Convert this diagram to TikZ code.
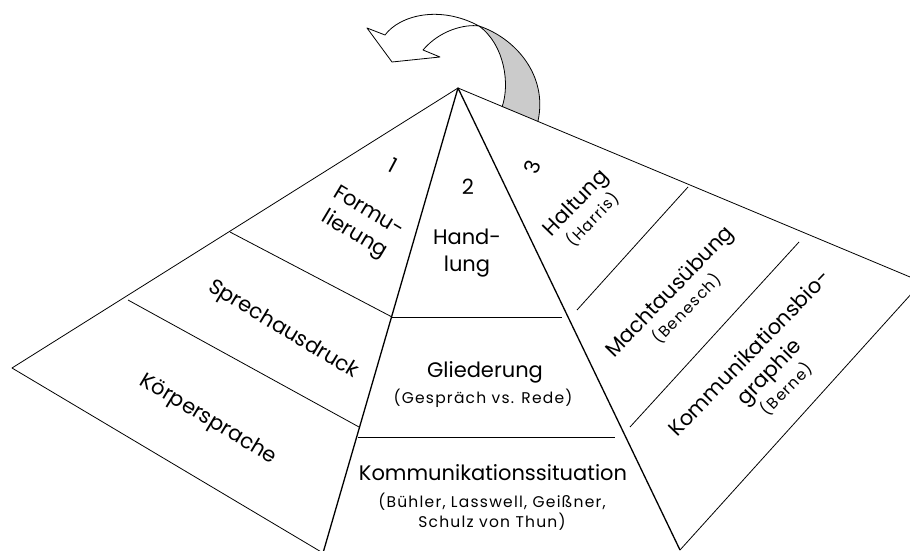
\documentclass[tikz,border=0pt]{standalone}
\usepackage{fontspec}
\setmainfont{Poppins}
\newfontfamily\subfam{Poppins}[LetterSpace=8]
\usetikzlibrary{calc}
\definecolor{BandGray}{HTML}{CBCBCB}
\newcommand{\smallerfont}{\subfam\fontsize{15.5}{20}\selectfont}

\begin{document}
\begin{tikzpicture}[x=1pt, y=-1pt, line join=round,
    pyr/.style={line width=1.3pt},
    flap/.style={line width=0.8pt},
    maintext/.style={font=\fontsize{21}{27}\selectfont, align=center, inner sep=0pt},
    subtext/.style={font=\smallerfont, align=center, inner sep=0pt}]
  \useasboundingbox (0,0) rectangle (910,551);

  % corners
  \coordinate (top) at (458,88);
  \coordinate (lfar) at (12,368);
  \coordinate (lbot) at (323,553);
  \coordinate (rbot) at (680,550);
  \coordinate (rfar) at (922,282);

  % curved arrow above the top
  \fill[BandGray] (479,26) .. controls (515,38) and (548,75) .. (538,121)
    -- (502,107) .. controls (510,85) and (505,45) .. (479,26);
  \draw[flap] (479,26) .. controls (515,38) and (548,75) .. (538,121);
  \draw[flap] (502,107) .. controls (510,85) and (505,45) .. (479,26);
  \draw[flap, fill=white] (479,26) .. controls (440,5) and (400,15) .. (385,35)
    -- (367,28) -- (392,62) -- (440,57) -- (423,50)
    .. controls (440,30) and (465,24) .. (479,26);

  % left flap
  \draw[flap] (top) -- (lfar) -- (lbot);
  \coordinate (l1a) at (230,232);
  \coordinate (l1b) at (392,317);
  \coordinate (l2a) at (128,300);
  \coordinate (l2b) at (359,427);
  \draw[flap] (l1a) -- (l1b);
  \draw[flap] (l2a) -- (l2b);

  % right flap
  \draw[flap] (top) -- (rfar) -- (rbot);
  \coordinate (r1a) at (688,187);
  \coordinate (r1b) at (577,310);
  \coordinate (r2a) at (799,242);
  \coordinate (r2b) at (630,427);
  \draw[flap] (r1a) -- (r1b);
  \draw[flap] (r2a) -- (r2b);

  % middle pyramid
  \draw[pyr] (lbot) -- (top) -- (rbot);
  \coordinate (m1a) at (392,317);
  \coordinate (m1b) at (562,317);
  \coordinate (m2a) at (358,437);
  \coordinate (m2b) at (615,437);
  \draw[flap] (m1a) -- (m1b);
  \draw[flap] (m2a) -- (m2b);

  % left texts
  \node[maintext, rotate=-28] (one) at (393,165) {1};
  \node[maintext, rotate=-31] (formu) at (361,224) {Formu-\\lierung};
  \node[maintext, rotate=-31] (sprech) at (283,330) {Sprechausdruck};
  \node[maintext, rotate=-31] (koerper) at (208,420) {Körpersprache};

  % middle texts
  \node[maintext] (two) at (468,187) {2};
  \node[maintext] (hand) at (467,253) {Hand-\\lung};
  \node[maintext] (glied) at (485,372) {Gliederung};
  \node[subtext] (gliedsub) at (483,398) {(Gespräch vs. Rede)};
  \node[maintext] (komm) at (493,473) {Kommunikationssituation};
  \node[subtext] (kommsub) at (492,512) {(Bühler, Lasswell, Geißner,\\Schulz von Thun)};

  % right texts
  \node[maintext, rotate=70] (three) at (532,167) {3};
  \node[maintext, rotate=46] (halt) at (584,211) {Haltung\\[-4pt]{\smallerfont (Harris)}};
  \node[maintext, rotate=46] (macht) at (678,300) {Machtausübung\\[-4pt]{\smallerfont (Benesch)}};
  \node[maintext, rotate=46] (biog) at (768,371) {Kommunikationsbio-\\graphie\\[-4pt]{\smallerfont (Berne)}};
\end{tikzpicture}
\end{document}
